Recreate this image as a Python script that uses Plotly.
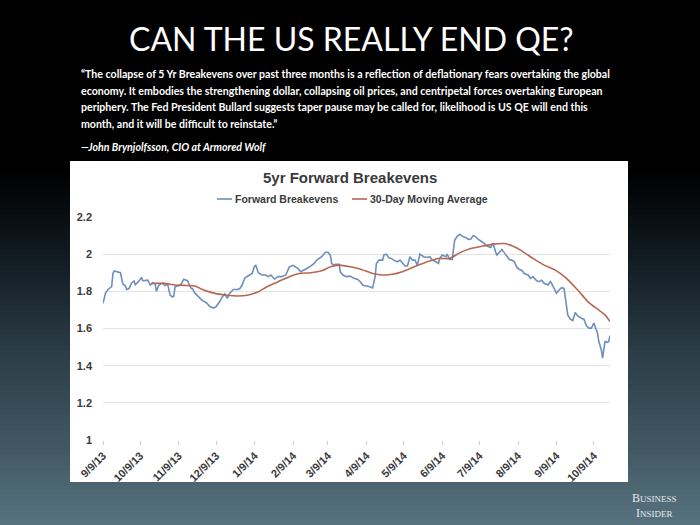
import plotly.graph_objects as go

# ---------------- data ----------------
fb_dates = [
    "2013-09-09", "2013-09-11", "2013-09-12", "2013-09-13", "2013-09-16", "2013-09-17", "2013-09-18",
    "2013-09-22", "2013-09-23", "2013-09-25", "2013-09-27", "2013-09-28", "2013-09-30", "2013-10-02",
    "2013-10-04", "2013-10-05", "2013-10-08", "2013-10-10", "2013-10-11", "2013-10-15", "2013-10-17",
    "2013-10-19", "2013-10-21", "2013-10-22", "2013-10-24", "2013-10-27", "2013-10-29", "2013-10-31",
    "2013-11-02", "2013-11-04", "2013-11-05", "2013-11-06", "2013-11-09", "2013-11-11", "2013-11-13",
    "2013-11-16", "2013-11-19", "2013-11-20", "2013-11-22", "2013-11-25", "2013-11-28", "2013-12-01",
    "2013-12-04", "2013-12-07", "2013-12-09", "2013-12-12", "2013-12-14", "2013-12-16", "2013-12-18",
    "2013-12-20", "2013-12-23", "2013-12-26", "2013-12-28", "2013-12-30", "2014-01-01", "2014-01-03",
    "2014-01-05", "2014-01-07", "2014-01-09", "2014-01-10", "2014-01-12", "2014-01-13", "2014-01-15",
    "2014-01-18", "2014-01-20", "2014-01-22", "2014-01-25", "2014-01-28", "2014-01-31", "2014-02-03",
    "2014-02-06", "2014-02-09", "2014-02-11", "2014-02-13", "2014-02-15", "2014-02-17", "2014-02-20",
    "2014-02-23", "2014-02-26", "2014-02-28", "2014-03-02", "2014-03-04", "2014-03-07", "2014-03-09",
    "2014-03-11", "2014-03-12", "2014-03-14", "2014-03-15", "2014-03-18", "2014-03-19", "2014-03-21",
    "2014-03-24", "2014-03-27", "2014-03-30", "2014-04-02", "2014-04-04", "2014-04-06", "2014-04-08",
    "2014-04-10", "2014-04-12", "2014-04-14", "2014-04-16", "2014-04-17", "2014-04-19", "2014-04-22",
    "2014-04-23", "2014-04-25", "2014-04-27", "2014-04-29", "2014-05-01", "2014-05-04", "2014-05-06",
    "2014-05-08", "2014-05-10", "2014-05-12", "2014-05-14", "2014-05-16", "2014-05-18", "2014-05-20",
    "2014-05-22", "2014-05-25", "2014-05-28", "2014-05-30", "2014-06-01", "2014-06-04", "2014-06-06",
    "2014-06-07", "2014-06-09", "2014-06-12", "2014-06-13", "2014-06-15", "2014-06-17", "2014-06-19",
    "2014-06-21", "2014-06-23", "2014-06-26", "2014-06-28", "2014-06-30", "2014-07-02", "2014-07-04",
    "2014-07-06", "2014-07-08", "2014-07-10", "2014-07-13", "2014-07-14", "2014-07-16", "2014-07-18",
    "2014-07-19", "2014-07-20", "2014-07-22", "2014-07-23", "2014-07-25", "2014-07-27", "2014-07-29",
    "2014-07-31", "2014-08-02", "2014-08-04", "2014-08-06", "2014-08-08", "2014-08-10", "2014-08-12",
    "2014-08-14", "2014-08-17", "2014-08-19", "2014-08-21", "2014-08-24", "2014-08-26", "2014-08-28",
    "2014-08-30", "2014-09-02", "2014-09-04", "2014-09-05", "2014-09-07", "2014-09-09", "2014-09-11",
    "2014-09-13", "2014-09-15", "2014-09-17", "2014-09-18", "2014-09-20", "2014-09-22", "2014-09-24",
    "2014-09-26", "2014-09-29", "2014-10-01", "2014-10-03", "2014-10-05", "2014-10-07", "2014-10-09",
    "2014-10-10", "2014-10-12", "2014-10-13", "2014-10-15", "2014-10-16", "2014-10-17", "2014-10-18",
    "2014-10-20", "2014-10-21", "2014-10-22",
]
fb_values = [
    1.736, 1.79, 1.80, 1.81, 1.825, 1.896, 1.91,
    1.90, 1.90, 1.84, 1.83, 1.81, 1.815, 1.845,
    1.855, 1.835, 1.855, 1.875, 1.857, 1.86, 1.834,
    1.846, 1.84, 1.80, 1.834, 1.845, 1.83, 1.84,
    1.78, 1.77, 1.775, 1.825, 1.83, 1.84, 1.865,
    1.857, 1.815, 1.815, 1.79, 1.77, 1.75, 1.74,
    1.718, 1.71, 1.718, 1.745, 1.77, 1.786, 1.762,
    1.79, 1.81, 1.81, 1.814, 1.834, 1.87, 1.88,
    1.888, 1.896, 1.936, 1.94, 1.90, 1.896, 1.888,
    1.888, 1.879, 1.888, 1.866, 1.879, 1.879, 1.888,
    1.932, 1.94, 1.93, 1.923, 1.905, 1.914, 1.923,
    1.936, 1.95, 1.968, 1.977, 1.986, 2.01, 2.01,
    1.995, 1.95, 1.94, 1.946, 1.946, 1.905, 1.888,
    1.879, 1.882, 1.87, 1.864, 1.852, 1.834, 1.829,
    1.829, 1.825, 1.818, 1.88, 1.95, 1.968, 1.968,
    1.995, 2.00, 1.98, 1.977, 1.968, 1.959, 1.968,
    1.95, 1.936, 1.936, 1.986, 1.968, 1.968, 1.941,
    2.00, 1.986, 1.982, 1.986, 1.968, 1.959, 1.95,
    1.977, 1.995, 1.986, 2.00, 1.971, 1.971, 2.075,
    2.096, 2.107, 2.093, 2.089, 2.079, 2.082, 2.10,
    2.093, 2.079, 2.071, 2.057, 2.046, 2.043, 2.036,
    2.048, 2.057, 2.01, 1.995, 2.01, 2.025, 2.007,
    1.986, 1.971, 1.968, 1.959, 1.93, 1.918, 1.914,
    1.896, 1.888, 1.87, 1.879, 1.857, 1.852, 1.86,
    1.843, 1.834, 1.852, 1.843, 1.816, 1.79, 1.807,
    1.82, 1.816, 1.709, 1.673, 1.65, 1.643, 1.686,
    1.668, 1.655, 1.65, 1.614, 1.602, 1.602, 1.629,
    1.611, 1.575, 1.53, 1.486, 1.441, 1.504, 1.53,
    1.525, 1.53, 1.561,
]

ma_dates = [
    "2013-10-18", "2013-10-28", "2013-11-06", "2013-11-13", "2013-11-22", "2013-11-29", "2013-12-08",
    "2013-12-17", "2013-12-26", "2014-01-04", "2014-01-12", "2014-01-19", "2014-01-28", "2014-02-06",
    "2014-02-14", "2014-02-23", "2014-03-04", "2014-03-11", "2014-03-18", "2014-03-27", "2014-04-05",
    "2014-04-14", "2014-04-22", "2014-05-01", "2014-05-10", "2014-05-19", "2014-05-28", "2014-06-06",
    "2014-06-15", "2014-06-23", "2014-07-02", "2014-07-11", "2014-07-20", "2014-07-29", "2014-08-05",
    "2014-08-12", "2014-08-21", "2014-08-30", "2014-09-08", "2014-09-17", "2014-09-26", "2014-10-05",
    "2014-10-12", "2014-10-18", "2014-10-22",
]
ma_values = [
    1.843, 1.843, 1.834, 1.832, 1.829, 1.807, 1.789,
    1.78, 1.775, 1.78, 1.798, 1.825, 1.852, 1.879,
    1.896, 1.90, 1.911, 1.932, 1.941, 1.932, 1.918,
    1.896, 1.888, 1.893, 1.911, 1.936, 1.959, 1.977,
    1.977, 2.007, 2.03, 2.043, 2.054, 2.057, 2.043,
    2.018, 1.977, 1.941, 1.914, 1.87, 1.807, 1.739,
    1.704, 1.673, 1.638,
]

x_tick_dates = ["2013-09-09", "2013-10-09", "2013-11-09", "2013-12-09", "2014-01-09", "2014-02-09",
                "2014-03-09", "2014-04-09", "2014-05-09", "2014-06-09", "2014-07-09", "2014-08-09",
                "2014-09-09", "2014-10-09"]
x_tick_labels = ["9/9/13", "10/9/13", "11/9/13", "12/9/13", "1/9/14", "2/9/14", "3/9/14", "4/9/14",
                 "5/9/14", "6/9/14", "7/9/14", "8/9/14", "9/9/14", "10/9/14"]
y_tick_vals = [1, 1.2, 1.4, 1.6, 1.8, 2, 2.2]
y_tick_labels = ["1", "1.2", "1.4", "1.6", "1.8", "2", "2.2"]

series_names = ["Forward Breakevens", "30-Day Moving Average"]

slide_title = "CAN THE US REALLY END QE?"
quote_lines = [
    "\u201cThe collapse of 5 Yr Breakevens over past three months is a reflection of deflationary fears overtaking the global",
    "economy. It embodies the strengthening dollar, collapsing oil prices, and centripetal forces overtaking European",
    "periphery. The Fed President Bullard suggests taper pause may be called for, likelihood is US QE will end this",
    "month, and it will be difficult to reinstate.\u201d",
]
attribution = "\u2014John Brynjolfsson, CIO at Armored Wolf"
chart_title = "5yr Forward Breakevens"

# ---------------- style ----------------
W, H = 700, 525
ML, MR, MT, MB = 103, 90, 217, 85
PW = W - ML - MR
PH = H - MT - MB
BLUE = "#6d8fbd"
RED = "#b8674f"
DARK = "#3a3a3a"
GRID = "#e3e3e3"


def px(x):
    return (x - ML) / PW


def py(y):
    return (H - MB - y) / PH


def lerp_color(stops, y):
    for (y0, c0), (y1, c1) in zip(stops, stops[1:]):
        if y0 <= y <= y1:
            t = (y - y0) / (y1 - y0)
            return "rgb(%d,%d,%d)" % tuple(round(a + (b - a) * t) for a, b in zip(c0, c1))
    return "rgb(%d,%d,%d)" % stops[-1][1]


grad_stops = [(0, (0, 0, 0)), (170, (0, 0, 0)), (250, (15, 25, 31)), (350, (43, 60, 70)),
              (450, (66, 89, 100)), (525, (87, 115, 128))]

shapes = []
step = 5
for y0 in range(150, H, step):
    shapes.append(dict(type="rect", xref="paper", yref="paper", x0=px(0), x1=px(W),
                       y0=py(y0 + step + 0.5), y1=py(y0), fillcolor=lerp_color(grad_stops, y0 + step / 2),
                       line=dict(width=0), layer="below"))
# white chart panel
shapes.append(dict(type="rect", xref="paper", yref="paper", x0=px(70), x1=px(628), y0=py(482), y1=py(161),
                   fillcolor="white", line=dict(width=0), layer="below"))

fig = go.Figure()
fig.add_trace(go.Scatter(x=fb_dates, y=fb_values, mode="lines", name=series_names[0],
                         line=dict(color=BLUE, width=1.6), showlegend=False))
fig.add_trace(go.Scatter(x=ma_dates, y=ma_values, mode="lines", name=series_names[1],
                         line=dict(color=RED, width=1.6, shape="spline", smoothing=0.6), showlegend=False))

annotations = []
annotations.append(dict(text=slide_title, xref="paper", yref="paper", x=px(351), y=py(39),
                        xanchor="center", yanchor="middle", showarrow=False,
                        font=dict(family="Lato", size=32, color="white")))
for i, line in enumerate(quote_lines):
    annotations.append(dict(text=line, xref="paper", yref="paper", x=px(79), y=py(74 + i * 16.7),
                            xanchor="left", yanchor="middle", showarrow=False,
                            font=dict(family="Lato", size=10.6, color="white", weight="bold")))
annotations.append(dict(text="<i>" + attribution + "</i>", xref="paper", yref="paper", x=px(79), y=py(147),
                        xanchor="left", yanchor="middle", showarrow=False,
                        font=dict(family="Lato", size=10.6, color="white", weight="bold")))
annotations.append(dict(text=chart_title, xref="paper", yref="paper", x=px(350), y=py(177),
                        xanchor="center", yanchor="middle", showarrow=False,
                        font=dict(family="Liberation Sans", size=15, color=DARK, weight="bold")))

# legend (manual)
leg_items = [(217, BLUE, series_names[0]), (352, RED, series_names[1])]
for x0, col, name in leg_items:
    shapes.append(dict(type="line", xref="paper", yref="paper", x0=px(x0), x1=px(x0 + 15),
                       y0=py(199), y1=py(199), line=dict(color=col, width=1.6)))
    annotations.append(dict(text=name, xref="paper", yref="paper", x=px(x0 + 16), y=py(199),
                            xanchor="left", yanchor="middle", showarrow=False,
                            font=dict(family="Liberation Sans", size=10.5, color=DARK, weight="bold")))

# Business Insider mark
annotations.append(dict(text="B<span style='font-size:9px'>USINESS</span>", xref="paper", yref="paper",
                        x=px(654), y=py(498), xanchor="center", yanchor="middle", showarrow=False,
                        font=dict(family="Liberation Serif", size=12, color="#e4eaec")))
annotations.append(dict(text="I<span style='font-size:9px'>NSIDER</span>", xref="paper", yref="paper",
                        x=px(654), y=py(513), xanchor="center", yanchor="middle", showarrow=False,
                        font=dict(family="Liberation Serif", size=12, color="#e4eaec")))

fig.update_layout(
    width=W, height=H,
    margin=dict(l=ML, r=MR, t=MT, b=MB, pad=0),
    paper_bgcolor="black", plot_bgcolor="white",
    shapes=shapes, annotations=annotations,
    showlegend=False,
    xaxis=dict(type="date", range=["2013-09-09", "2014-10-22"], tickvals=x_tick_dates,
               ticktext=x_tick_labels, tickangle=-45, showgrid=False, zeroline=False,
               showline=False, ticks="outside", ticklen=4, tickcolor="#d0d0d0",
               tickfont=dict(family="Liberation Sans", size=11, color=DARK, weight="bold"),
               automargin=False, fixedrange=True),
    yaxis=dict(range=[1, 2.2], tickvals=y_tick_vals, ticktext=y_tick_labels,
               showgrid=True, gridcolor=GRID, gridwidth=1, zeroline=False, showline=False,
               ticks="", ticklabelstandoff=10,
               tickfont=dict(family="Liberation Sans", size=11, color=DARK, weight="bold"),
               automargin=False, fixedrange=True),
)

fig.write_html("out.html")
